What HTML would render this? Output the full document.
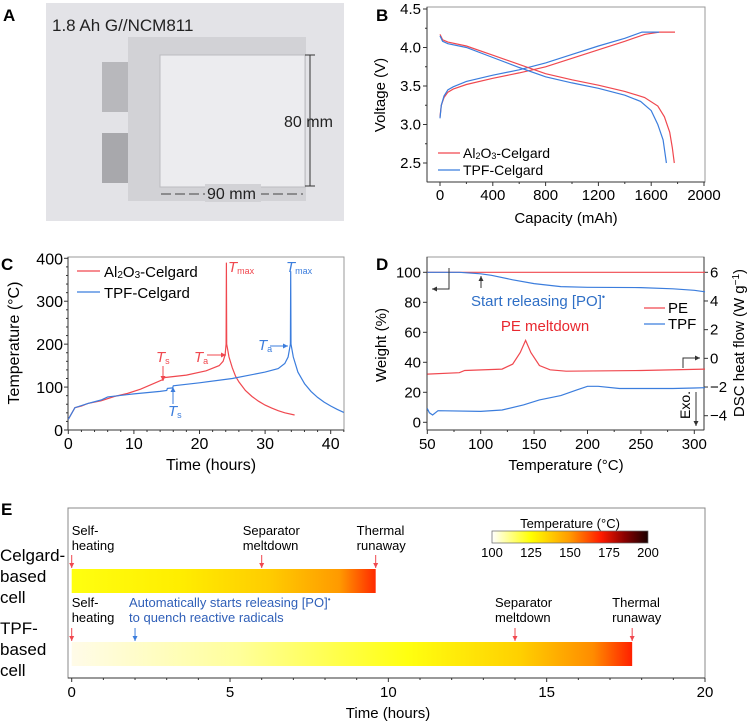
<!DOCTYPE html>
<html><head><meta charset="utf-8"><style>
body{margin:0;background:#fff;}
svg{display:block;font-family:"Liberation Sans",Arial,sans-serif;}
</style></head><body>
<svg id="fig" width="750" height="725" viewBox="0 0 750 725" xmlns="http://www.w3.org/2000/svg">
<defs>
<linearGradient id="gCel" x1="0" x2="1" y1="0" y2="0">
<stop offset="0" stop-color="#ffff10"/><stop offset="0.35" stop-color="#ffee00"/><stop offset="0.65" stop-color="#ffcc00"/><stop offset="0.88" stop-color="#ff9a00"/><stop offset="1" stop-color="#ff2a00"/></linearGradient>
<linearGradient id="gTpf" x1="0" x2="1" y1="0" y2="0">
<stop offset="0" stop-color="#fffbe8"/><stop offset="0.3" stop-color="#ffff9a"/><stop offset="0.6" stop-color="#ffff10"/><stop offset="0.8" stop-color="#ffd000"/><stop offset="0.93" stop-color="#ff8c00"/><stop offset="1" stop-color="#ff2000"/></linearGradient>
<linearGradient id="gBar" x1="0" x2="1" y1="0" y2="0">
<stop offset="0" stop-color="#ffffff"/><stop offset="0.25" stop-color="#ffff00"/><stop offset="0.5" stop-color="#ff9900"/><stop offset="0.7" stop-color="#ff1a00"/><stop offset="0.85" stop-color="#8a0000"/><stop offset="1" stop-color="#1a0000"/></linearGradient>
</defs>

<!-- Panel A -->
<g>
<text x="3" y="21" font-size="17" font-weight="bold">A</text>
<rect x="46" y="3" width="298" height="218" fill="#e3e3e7"/>
<text x="52" y="31" font-size="17" fill="#222">1.8 Ah G//NCM811</text>
<rect x="102" y="62" width="30" height="50" fill="#b8b8bc"/>
<rect x="102" y="133" width="30" height="50" fill="#a8a8ac"/>
<rect x="128" y="37" width="178" height="164" fill="#d2d2d6"/>
<rect x="160" y="55" width="145" height="132" fill="#ececef" stroke="#bcbcc0"/>
<line x1="310" y1="55" x2="310" y2="186" stroke="#333" stroke-width="1"/>
<line x1="305" y1="55" x2="315" y2="55" stroke="#333"/><line x1="305" y1="186" x2="315" y2="186" stroke="#333"/>
<text x="284" y="127" font-size="16" fill="#222">80 mm</text>
<line x1="161" y1="194" x2="303" y2="194" stroke="#444" stroke-dasharray="10 4"/>
<rect x="205" y="184" width="56" height="18" fill="#d2d2d6"/>
<text x="207" y="199" font-size="16" fill="#222">90 mm</text>
</g>

<g id="pB"></g>
<g id="pC"></g>
<g id="pD"></g>
<g id="pE"></g>
</svg>
<script>
// ---------- Panel B data ----------
const bXTicks=[0,400,800,1200,1600,2000];
const bYTicks=[2.5,3.0,3.5,4.0,4.5];
const bAlChargeCap=[0,10,30,60,100,200,400,600,800,1000,1200,1400,1550,1660,1780];
const bAlChargeV=[3.1,3.25,3.35,3.42,3.46,3.52,3.6,3.67,3.75,3.86,3.97,4.08,4.17,4.2,4.2];
const bTpfChargeCap=[0,10,30,60,100,200,400,600,800,1000,1200,1400,1530,1660];
const bTpfChargeV=[3.08,3.25,3.37,3.45,3.49,3.56,3.64,3.71,3.8,3.91,4.02,4.12,4.2,4.2];
const bAlDisCap=[0,20,60,200,400,600,800,1000,1200,1400,1550,1650,1700,1740,1760,1775];
const bAlDisV=[4.17,4.1,4.07,4.02,3.9,3.78,3.66,3.58,3.51,3.43,3.35,3.24,3.1,2.9,2.7,2.5];
const bTpfDisCap=[0,20,60,200,400,600,800,1000,1200,1400,1520,1600,1650,1690,1715];
const bTpfDisV=[4.15,4.08,4.05,4.0,3.87,3.74,3.62,3.54,3.47,3.38,3.3,3.18,3.0,2.8,2.5];
// ---------- Panel C data ----------
const cXTicks=[0,10,20,30,40];
const cYTicks=[0,100,200,300,400];
const cAlT=[0,1,2,3,5,7,9,11,13,14.5,14.6,18,21,23,23.6,23.9,24.05,24.1,24.15,24.5,25,25.5,26,27,28,29,30,31,32,33,34.5];
const cAlTemp=[25,52,56,62,68,78,85,95,108,118,122,128,138,150,160,175,200,390,200,170,145,125,112,92,78,67,58,51,45,40,35];
const cTpfT=[0,1,3,5,6,10,14,15,15.1,15.9,16,20,25,30,32,33,33.5,33.85,33.9,33.95,34.3,35,36,37,38,39,40,41,42];
const cTpfTemp=[25,52,62,70,77,84,90,92,97,98,103,110,120,135,143,155,170,200,370,200,170,135,108,90,76,65,56,48,41];
// ---------- Panel D data ----------
const dXTicks=[50,100,150,200,250,300];
const dYTicks=[0,20,40,60,80,100];
const dY2Ticks=[-4,-2,0,2,4,6];
const dPeTgaT=[50,310];
const dPeTgaW=[100,100];
const dTpfTgaT=[50,80,100,110,130,150,175,200,250,280,300,310];
const dTpfTgaW=[100,100,99,98,95,92.5,90.5,90,89.8,89,88,87];
const dPeDscT=[50,80,85,120,130,137,142,147,155,165,180,250,310];
const dPeDscH=[-1.1,-1.0,-0.85,-0.75,-0.4,0.4,1.25,0.4,-0.5,-0.8,-0.9,-0.85,-0.75];
const dTpfDscT=[50,52,55,60,100,120,140,155,175,190,200,210,230,280,300,310];
const dTpfDscH=[-3.5,-3.8,-3.95,-3.65,-3.7,-3.6,-3.25,-2.9,-2.6,-2.2,-1.95,-1.95,-2.1,-2.1,-2.07,-2.05];
// ---------- Panel E data ----------
const eXTicks=[0,5,10,15,20];
const eCelgardEnd=9.6;
const eTpfEnd=17.7;
const eCelgardEvents=[0,6,9.6];
const eTpfEvents=[0,14,17.7];
const eTpfRelease=2;
const eCbarTicks=[100,125,150,175,200];

const NS='http://www.w3.org/2000/svg';
function mk(parent,tag,attrs,txt){const e=document.createElementNS(NS,tag);for(const k in attrs)e.setAttribute(k,attrs[k]);if(txt!==undefined)e.textContent=txt;parent.appendChild(e);return e;}
function lin(d0,d1,r0,r1){return v=>r0+(v-d0)*(r1-r0)/(d1-d0);}
function pathOf(xs,ys,sx,sy){return xs.map((x,i)=>(i?'L':'M')+sx(x).toFixed(1)+','+sy(ys[i]).toFixed(1)).join('');}
function arrow(g,x1,y1,x2,y2,col){
  mk(g,'line',{x1:x1,y1:y1,x2:x2,y2:y2,stroke:col,'stroke-width':1});
  const a=Math.atan2(y2-y1,x2-x1),s=5;
  const p=[[x2,y2],[x2-s*Math.cos(a)+2.5*Math.sin(a),y2-s*Math.sin(a)-2.5*Math.cos(a)],[x2-s*Math.cos(a)-2.5*Math.sin(a),y2-s*Math.sin(a)+2.5*Math.cos(a)]];
  mk(g,'polygon',{points:p.map(q=>q.join(',')).join(' '),fill:col});
}
function frame(g,L,T,R,B){
  mk(g,'rect',{x:L,y:T,width:R-L,height:B-T,fill:'none',stroke:'#999','stroke-width':1});
  mk(g,'line',{x1:L,y1:T,x2:L,y2:B,stroke:'#333'});
  mk(g,'line',{x1:L,y1:B,x2:R,y2:B,stroke:'#333'});
}
const RED='#f0484f',BLUE='#3b7ddd';

// ===== Panel B =====
(function(){
const g=document.getElementById('pB');
const L=427,R=705,T=7,B=182;
const sx=lin(0,2000,440,704), sy=lin(2.5,4.5,163,9);
mk(g,'text',{x:376,y:21,'font-size':17,'font-weight':'bold'},'B');
frame(g,L,T,R,B);
bXTicks.forEach((t,i)=>{const x=sx(t);
  const tk=mk(g,'line',{x1:x,y1:B,x2:x,y2:B+4,stroke:'#333'});
  
  const l=mk(g,'text',{x:x,y:B+18,'font-size':15,'text-anchor':'middle'},String(t));
  
  if(i<bXTicks.length-1){const xm=sx(t+200);mk(g,'line',{x1:xm,y1:B,x2:xm,y2:B+2,stroke:'#333'});}
});
bYTicks.forEach(t=>{const y=sy(t);
  mk(g,'line',{x1:L-4,y1:y,x2:L,y2:y,stroke:'#333'});
  const l=mk(g,'text',{x:L-6,y:y+5,'font-size':15,'text-anchor':'end'},t.toFixed(1));
  
  if(t<4.5)mk(g,'line',{x1:L-2,y1:sy(t+0.25),x2:L,y2:sy(t+0.25),stroke:'#333'});
});
const xt=mk(g,'text',{x:566,y:223,'font-size':15,'text-anchor':'middle'},'Capacity (mAh)');

const yt=mk(g,'text',{x:0,y:0,'font-size':15,'text-anchor':'middle',transform:'translate(385,95) rotate(-90)'},'Voltage (V)');

[[bAlChargeCap,bAlChargeV,RED,'al2o3-charge-line'],[bTpfChargeCap,bTpfChargeV,BLUE,'tpf-charge-line'],[bAlDisCap,bAlDisV,RED,'al2o3-discharge-line'],[bTpfDisCap,bTpfDisV,BLUE,'tpf-discharge-line']].forEach(s=>{
  const p=mk(g,'path',{d:pathOf(s[0],s[1],sx,sy),fill:'none',stroke:s[2],'stroke-width':1.2});
  
});
const lg=mk(g,'g',{});
mk(lg,'line',{x1:438,y1:153,x2:460,y2:153,stroke:RED,'stroke-width':1.2});
const t1=mk(lg,'text',{x:463,y:158,'font-size':14});
t1.innerHTML='Al<tspan font-size="9" dy="1">2</tspan><tspan dy="-1">O</tspan><tspan font-size="9" dy="1">3</tspan><tspan dy="-1">-Celgard</tspan>';
mk(lg,'line',{x1:438,y1:170,x2:460,y2:170,stroke:BLUE,'stroke-width':1.2});
mk(lg,'text',{x:463,y:175,'font-size':14},'TPF-Celgard');
})();

// ===== Panel C =====
(function(){
const g=document.getElementById('pC');
const L=68,R=344,T=257,B=430;
const sx=lin(0,40,68.3,330.7), sy=lin(0,400,430,258.3);
mk(g,'text',{x:1,y:270,'font-size':17,'font-weight':'bold'},'C');
frame(g,L,T,R,B);
cXTicks.forEach(t=>{const x=sx(t);
  mk(g,'line',{x1:x,y1:B,x2:x,y2:B+4,stroke:'#333'});
  const l=mk(g,'text',{x:x,y:B+19,'font-size':16,'text-anchor':'middle'},String(t));
  
  for(let k=2;k<10;k+=2){const xm=sx(t+k);if(xm<R)mk(g,'line',{x1:xm,y1:B,x2:xm,y2:B+2,stroke:'#333'});}
});
cYTicks.forEach(t=>{const y=sy(t);
  mk(g,'line',{x1:L-4,y1:y,x2:L,y2:y,stroke:'#333'});
  const l=mk(g,'text',{x:L-5,y:y+6,'font-size':16,'text-anchor':'end'},String(t));
  
  if(t<400)for(let k=20;k<100;k+=20)mk(g,'line',{x1:L-2,y1:sy(t+k),x2:L,y2:sy(t+k),stroke:'#333'});
});
const xt=mk(g,'text',{x:211,y:470,'font-size':16,'text-anchor':'middle'},'Time (hours)');

const yt=mk(g,'text',{x:0,y:0,'font-size':16,'text-anchor':'middle',transform:'translate(19,343) rotate(-90)'},'Temperature (°C)');

const p1=mk(g,'path',{d:pathOf(cAlT,cAlTemp,sx,sy),fill:'none',stroke:RED,'stroke-width':1.2});

const p2=mk(g,'path',{d:pathOf(cTpfT,cTpfTemp,sx,sy),fill:'none',stroke:BLUE,'stroke-width':1.2});

const lg=mk(g,'g',{});
mk(lg,'line',{x1:77,y1:271,x2:100,y2:271,stroke:RED,'stroke-width':1.2});
const t1=mk(lg,'text',{x:104,y:277,'font-size':15});
t1.innerHTML='Al<tspan font-size="10" dy="1">2</tspan><tspan dy="-1">O</tspan><tspan font-size="10" dy="1">3</tspan><tspan dy="-1">-Celgard</tspan>';
mk(lg,'line',{x1:77,y1:292,x2:100,y2:292,stroke:BLUE,'stroke-width':1.2});
mk(lg,'text',{x:104,y:298,'font-size':15},'TPF-Celgard');
function lab(x,y,sub,col){const t=mk(g,'text',{x:x,y:y,'font-size':15,fill:col});t.innerHTML='<tspan font-style="italic">T</tspan><tspan font-size="9" dy="2">'+sub+'</tspan>';
 }
lab(228,272,'max',RED);lab(286,272,'max',BLUE);
lab(156,362,'s',RED);arrow(g,163,366,163,381,RED);
lab(194,362,'a',RED);arrow(g,207,355,226,355,RED);
lab(258,350,'a',BLUE);arrow(g,270,346,288,346,BLUE);
lab(168,416,'s',BLUE);arrow(g,173,404,173,387,BLUE);
})();

// ===== Panel D =====
(function(){
const g=document.getElementById('pD');
const L=427,R=704,T=257,B=430;
const sx=lin(50,300,427.3,694.3), sy=lin(0,100,422.3,272.3), sy2=lin(-4,6,415.7,272.3);
mk(g,'text',{x:376,y:270,'font-size':17,'font-weight':'bold'},'D');
frame(g,L,T,R,B);
mk(g,'line',{x1:R,y1:T,x2:R,y2:B,stroke:'#333'});
dXTicks.forEach(t=>{const x=sx(t);
  mk(g,'line',{x1:x,y1:B,x2:x,y2:B+4,stroke:'#333'});
  const l=mk(g,'text',{x:x,y:B+19,'font-size':15,'text-anchor':'middle'},String(t));
  
  const xm=sx(t+25);if(xm<R)mk(g,'line',{x1:xm,y1:B,x2:xm,y2:B+2,stroke:'#333'});
});
dYTicks.forEach(t=>{const y=sy(t);
  mk(g,'line',{x1:L-4,y1:y,x2:L,y2:y,stroke:'#333'});
  const l=mk(g,'text',{x:L-6,y:y+5,'font-size':15,'text-anchor':'end'},String(t));
  
});
dY2Ticks.forEach(t=>{const y=sy2(t);
  mk(g,'line',{x1:R,y1:y,x2:R+4,y2:y,stroke:'#333'});
  const l=mk(g,'text',{x:R+6,y:y+5,'font-size':15},String(t).replace('-','−'));
  
});
const xt=mk(g,'text',{x:566,y:470,'font-size':15,'text-anchor':'middle'},'Temperature (°C)');

const yt=mk(g,'text',{x:0,y:0,'font-size':15,'text-anchor':'middle',transform:'translate(386,345) rotate(-90)'},'Weight (%)');

const y2=mk(g,'text',{x:0,y:0,'font-size':15,'text-anchor':'middle',transform:'translate(744,343) rotate(-90)'});
y2.innerHTML='DSC heat flow (W g<tspan font-size="10" dy="-5">−1</tspan><tspan dy="5">)</tspan>';

[[dPeTgaT,dPeTgaW,sy,RED,'pe-tga-line'],[dTpfTgaT,dTpfTgaW,sy,BLUE,'tpf-tga-line'],[dPeDscT,dPeDscH,sy2,RED,'pe-dsc-line'],[dTpfDscT,dTpfDscH,sy2,BLUE,'tpf-dsc-line']].forEach(s=>{
  const p=mk(g,'path',{d:pathOf(s[0],s[1],sx,s[2]),fill:'none',stroke:s[3],'stroke-width':1.2});
  
});
const sr=mk(g,'text',{x:471,y:306,'font-size':15,fill:'#2f6fc6'});
sr.innerHTML='Start releasing [PO]<tspan font-size="9" dy="-6">•</tspan>';

arrow(g,481,288,481,276,'#333');
mk(g,'polyline',{points:'449,268 449,289 438,289',fill:'none',stroke:'#333'});arrow(g,440,289,432,289,'#333');
const pm=mk(g,'text',{x:545,y:331,'font-size':15,fill:'#e8282f','text-anchor':'middle'},'PE meltdown');

mk(g,'polyline',{points:'683,368 683,358 692,358',fill:'none',stroke:'#333'});arrow(g,690,358,700,358,'#333');
mk(g,'text',{x:0,y:0,'font-size':14,'text-anchor':'middle',transform:'translate(690,405) rotate(-90)'},'Exo.');
arrow(g,696,392,696,426,'#333');
const lg=mk(g,'g',{});
mk(lg,'line',{x1:644,y1:308,x2:665,y2:308,stroke:RED,'stroke-width':1.2});
mk(lg,'text',{x:668,y:313,'font-size':15},'PE');
mk(lg,'line',{x1:644,y1:324,x2:665,y2:324,stroke:BLUE,'stroke-width':1.2});
mk(lg,'text',{x:668,y:329,'font-size':15},'TPF');
})();

// ===== Panel E =====
(function(){
const g=document.getElementById('pE');
const L=68,R=705,T=508,B=678;
const sx=lin(0,20,71.7,705);
mk(g,'text',{x:1,y:515,'font-size':17,'font-weight':'bold'},'E');
mk(g,'rect',{x:L,y:T,width:R-L,height:B-T,fill:'none',stroke:'#888'});
mk(g,'line',{x1:L,y1:B,x2:R,y2:B,stroke:'#333'});
eXTicks.forEach(t=>{const x=sx(t);
  mk(g,'line',{x1:x,y1:B,x2:x,y2:B+4,stroke:'#333'});
  const l=mk(g,'text',{x:x,y:B+19,'font-size':15,'text-anchor':'middle'},String(t));
  
  if(t<20)for(let k=1;k<5;k++)mk(g,'line',{x1:sx(t+k),y1:B,x2:sx(t+k),y2:B+2,stroke:'#333'});
});
const xt=mk(g,'text',{x:388,y:718,'font-size':15,'text-anchor':'middle'},'Time (hours)');

[['Celgard-',561],['based',582],['cell',603],['TPF-',634],['based',655],['cell',676]].forEach(a=>mk(g,'text',{x:0,y:a[1],'font-size':17},a[0]));
const b1=mk(g,'rect',{x:sx(0),y:569,width:sx(eCelgardEnd)-sx(0),height:24,fill:'url(#gCel)'});

const b2=mk(g,'rect',{x:sx(0),y:642,width:sx(eTpfEnd)-sx(0),height:24,fill:'url(#gTpf)'});

const celL=[['Self-','heating','start'],['Separator','meltdown','start'],['Thermal','runaway','start']];
eCelgardEvents.forEach((t,i)=>{const x=sx(t);arrow(g,x,555,x,568,RED);
  const dx=i==0?0:-19;
  mk(g,'text',{x:x+dx,y:535,'font-size':13},celL[i][0]);mk(g,'text',{x:x+dx,y:550,'font-size':13},celL[i][1]);});
eTpfEvents.forEach((t,i)=>{const x=sx(t);arrow(g,x,628,x,641,RED);
  const dx=i==0?0:-20;
  mk(g,'text',{x:x+dx,y:607,'font-size':13},celL[i][0]);mk(g,'text',{x:x+dx,y:622,'font-size':13},celL[i][1]);});
const rx=sx(eTpfRelease);arrow(g,rx,628,rx,641,BLUE);
const r1=mk(g,'text',{x:rx-6,y:607,'font-size':13,fill:'#2f5fb8'});
r1.innerHTML='Automatically starts releasing [PO]<tspan font-size="8" dy="-5">•</tspan>';
mk(g,'text',{x:rx-6,y:622,'font-size':13,fill:'#2f5fb8'},'to quench reactive radicals');
const cs=lin(100,200,492,648);
const cb=mk(g,'rect',{x:cs(100),y:531,width:cs(200)-cs(100),height:12,fill:'url(#gBar)',stroke:'#666','stroke-width':0.7});

mk(g,'text',{x:570,y:528,'font-size':13,'text-anchor':'middle'},'Temperature (°C)');
eCbarTicks.forEach(t=>{mk(g,'text',{x:cs(t),y:557,'font-size':13,'text-anchor':'middle'},String(t));});
})();
</script>
</body></html>
